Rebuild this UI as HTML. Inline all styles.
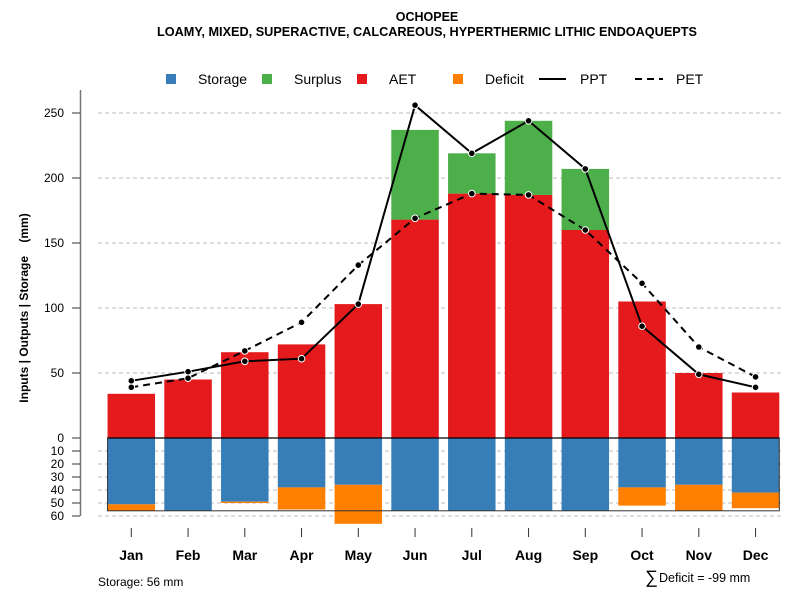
<!DOCTYPE html>
<html><head><meta charset="utf-8"><style>
body{margin:0;background:#fff}
svg{font-family:"Liberation Sans",Arial,sans-serif}
</style></head><body>
<svg id="chart" width="800" height="600" viewBox="0 0 800 600" xmlns="http://www.w3.org/2000/svg">
<text x="427" y="21" text-anchor="middle" font-size="12.5" font-weight="bold">OCHOPEE</text>
<text x="427" y="36" text-anchor="middle" font-size="12.7" font-weight="bold">LOAMY, MIXED, SUPERACTIVE, CALCAREOUS, HYPERTHERMIC LITHIC ENDOAQUEPTS</text>
<g font-size="14">
<g><rect x="166" y="74" width="10" height="10" fill="#377eb8"/><text x="198" y="84">Storage</text></g>
<g><rect x="262" y="74" width="10" height="10" fill="#4daf4a"/><text x="294" y="84">Surplus</text></g>
<g><rect x="357" y="74" width="10" height="10" fill="#e41a1c"/><text x="389" y="84">AET</text></g>
<g><rect x="453" y="74" width="10" height="10" fill="#ff7f00"/><text x="485" y="84">Deficit</text></g>
<g><line x1="539" y1="79" x2="566" y2="79" stroke="#000" stroke-width="2"/><text x="580" y="84">PPT</text></g>
<g><line x1="635" y1="79" x2="663" y2="79" stroke="#000" stroke-width="2" stroke-dasharray="7,5"/><text x="676" y="84">PET</text></g>
</g>
<text transform="translate(28,308) rotate(-90)" text-anchor="middle" font-size="12" font-weight="bold" xml:space="preserve">Inputs | Outputs | Storage    (mm)</text>
<g id="grid"></g><g id="bars"></g><g id="lines"></g><g id="axes"></g>
<text x="98" y="586" font-size="12">Storage: 56 mm</text>
<text x="645" y="583" font-size="18">∑</text>
<text x="659" y="582" font-size="12.5">Deficit = -99 mm</text>
</svg>
<script>
const months=["Jan","Feb","Mar","Apr","May","Jun","Jul","Aug","Sep","Oct","Nov","Dec"];
const aet=[34,45,66,72,103,168,188,187,160,105,50,35];
const surplus=[0,0,0,0,0,69,31,57,47,0,0,0];
const ppt=[44,51,59,61,103,256,219,244,207,86,49,39];
const pet=[39,46,67,89,133,169,188,187,160,119,70,47];
const storage=[51,56,49,38,36,56,56,56,56,38,36,42];
const deficit=[5,0,1,17,30,0,0,0,0,14,20,12];
const upTicks=[0,50,100,150,200,250];
const downTicks=[10,20,30,40,50,60];
const capacity=56;
const NS="http://www.w3.org/2000/svg";
const y0=438,k=1.3;
const yUp=v=>y0-v*k, yDn=v=>y0+v*k;
const xC=i=>131.3+i*56.75, bw=47.5;
function mk(p,t,a){const e=document.createElementNS(NS,t);for(const n in a)e.setAttribute(n,a[n]);document.getElementById(p).appendChild(e);return e;}
upTicks.forEach(v=>{if(v>0){const l=mk("grid","line",{x1:98,x2:782,y1:yUp(v),y2:yUp(v),stroke:"#bbb","stroke-dasharray":"4,3"});

}});
downTicks.forEach(v=>{const l=mk("grid","line",{x1:98,x2:782,y1:yDn(v),y2:yDn(v),stroke:"#bbb","stroke-dasharray":"4,3"});

});
months.forEach((m,i)=>{
 const x=xC(i)-bw/2;
 let r=mk("bars","rect",{x:x,y:yUp(aet[i]),width:bw,height:aet[i]*k,fill:"#e41a1c"});
 
 
 if(surplus[i]>0){r=mk("bars","rect",{x:x,y:yUp(aet[i]+surplus[i]),width:bw,height:surplus[i]*k,fill:"#4daf4a"});
 
 }
 r=mk("bars","rect",{x:x,y:y0,width:bw,height:storage[i]*k,fill:"#377eb8"});
 
 
 if(deficit[i]>0){r=mk("bars","rect",{x:x,y:yDn(storage[i]),width:bw,height:deficit[i]*k,fill:"#ff7f00"});
 
 }
});
let box=mk("bars","rect",{x:xC(0)-bw/2,y:y0,width:xC(11)+bw/2-(xC(0)-bw/2),height:capacity*k,fill:"none",stroke:"#333","stroke-width":1});


let zl=mk("bars","line",{x1:xC(0)-bw/2,x2:xC(11)+bw/2,y1:y0,y2:y0,stroke:"#000","stroke-width":1.2});


function series(vals,name,dash){
 const p=mk("lines","polyline",{points:vals.map((v,i)=>xC(i)+","+yUp(v)).join(" "),fill:"none",stroke:"#000","stroke-width":2,"stroke-dasharray":dash});
 
 
 vals.forEach((v,i)=>{const c=mk("lines","circle",{cx:xC(i),cy:yUp(v),r:3.3,fill:"#000",stroke:"#fff","stroke-width":1});
 
 });
}
series(pet,"pet","7,5");
series(ppt,"ppt","none");
let ax=mk("axes","line",{x1:80.5,x2:80.5,y1:90,y2:yDn(60),stroke:"#777","stroke-width":1.5});


upTicks.forEach(v=>{mk("axes","line",{x1:72,x2:80,y1:yUp(v),y2:yUp(v),stroke:"#333"});
 const t=mk("axes","text",{x:64,y:yUp(v)+4,"text-anchor":"end","font-size":12});t.textContent=v;
 
 });
downTicks.forEach(v=>{mk("axes","line",{x1:72,x2:80,y1:yDn(v),y2:yDn(v),stroke:"#333"});
 const t=mk("axes","text",{x:64,y:yDn(v)+4,"text-anchor":"end","font-size":12});t.textContent=v;
 
 });
months.forEach((m,i)=>{mk("axes","line",{x1:xC(i),x2:xC(i),y1:528,y2:537,stroke:"#333"});
 const t=mk("axes","text",{x:xC(i),y:560,"text-anchor":"middle","font-size":14,"font-weight":"bold"});t.textContent=m;
 
 });
</script>
</body></html>
